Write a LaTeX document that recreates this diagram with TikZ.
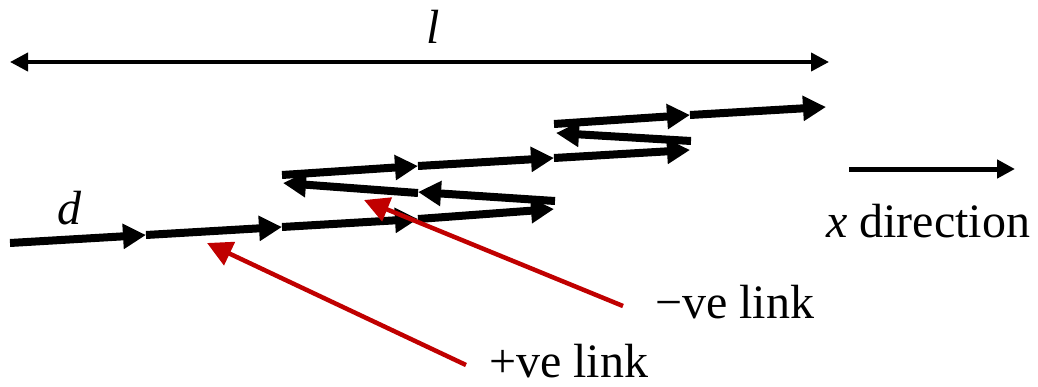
\documentclass[tikz,border=0pt]{standalone}
\usepackage{fontspec}
\setmainfont{Liberation Serif}
\usetikzlibrary{arrows.meta}
\definecolor{linkred}{RGB}{192,0,0}
\begin{document}
\begin{tikzpicture}[x=1pt,y=-1pt,
  linkarrow/.style={line width=8pt,-{Triangle[length=23pt,width=24pt]}},
  redarrow/.style={draw=linkred,line width=4.5pt,-{Triangle[length=25pt,width=25pt]}},
  dimarrow/.style={line width=4pt,{Triangle[length=18pt,width=18pt]}-{Triangle[length=18pt,width=18pt]}},
  xarrow/.style={line width=5pt,-{Triangle[length=18pt,width=18pt]}},
  lbl/.style={inner sep=0pt,font=\fontsize{48}{56}\selectfont}]
\useasboundingbox (0,0) rectangle (1038,386);
% chain coordinates
\coordinate (p0) at (10,243);
\coordinate (p1) at (146,235);
\coordinate (p2) at (282,227);
\coordinate (p3) at (418,219);
\coordinate (p4) at (554,209);
\coordinate (q5s) at (555,201);
\coordinate (q5e) at (418,192);
\coordinate (q6s) at (418,193);
\coordinate (q6e) at (283,183);
\coordinate (q7s) at (282,175);
\coordinate (q7e) at (418,166);
\coordinate (q8e) at (554,158);
\coordinate (q9e) at (690,150);
\coordinate (q10s) at (691,141);
\coordinate (q10e) at (556,133);
\coordinate (q11s) at (554,124);
\coordinate (q11e) at (690,115);
\coordinate (q12e) at (826,107);
% links
\draw[linkarrow] (p0) -- (p1);
\draw[linkarrow] (p1) -- (p2);
\draw[linkarrow] (p2) -- (p3);
\draw[linkarrow] (p3) -- (p4);
\draw[linkarrow] (q5s) -- (q5e);
\draw[linkarrow] (q6s) -- (q6e);
\draw[linkarrow] (q7s) -- (q7e);
\draw[linkarrow] (q7e) -- (q8e);
\draw[linkarrow] (q8e) -- (q9e);
\draw[linkarrow] (q10s) -- (q10e);
\draw[linkarrow] (q11s) -- (q11e);
\draw[linkarrow] (q11e) -- (q12e);
% length arrow
\coordinate (la) at (10,62);
\coordinate (lb) at (829,62);
\draw[dimarrow] (la) -- (lb);
\node[lbl,anchor=base] (lab) at (433,43) {\itshape l};
\node[lbl,anchor=base west] (dlab) at (57,224) {\itshape d};
% x direction
\coordinate (xa) at (849,169);
\coordinate (xb) at (1015,169);
\draw[xarrow] (xa) -- (xb);
\node[lbl,anchor=base west] (xlab) at (826,237) {\itshape x\upshape{} direction};
% red pointers
\node[lbl,anchor=base west] (neg) at (655,318) {−ve link};
\node[lbl,anchor=base west] (pos) at (489,377) {+ve link};
\coordinate (negt) at (623,306);
\coordinate (negh) at (364,200);
\coordinate (post) at (466,365);
\coordinate (posh) at (207,243);
\draw[redarrow] (negt) -- (negh);
\draw[redarrow] (post) -- (posh);
\end{tikzpicture}
\end{document}
